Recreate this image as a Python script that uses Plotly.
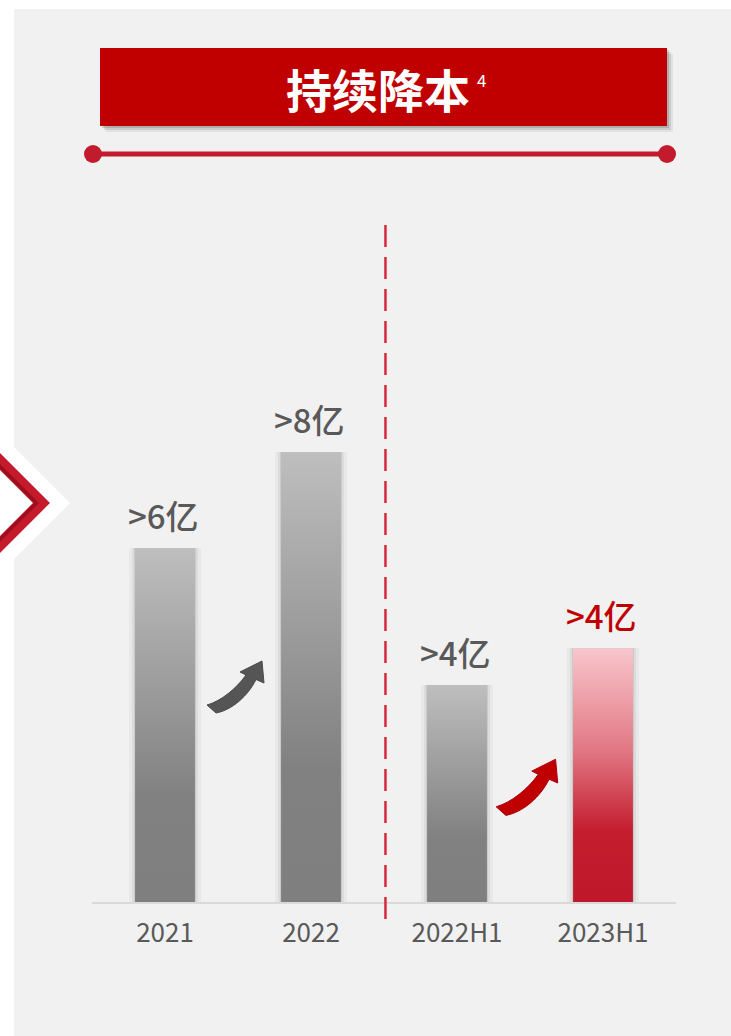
import plotly.graph_objects as go

# ---- data -------------------------------------------------------------
categories = ["2021", "2022", "2022H1", "2023H1"]
savings = [6.55, 8.33, 4.02, 4.70]          # 亿元
value_labels = [">6亿", ">8亿", ">4亿", ">4亿"]
highlight = [False, False, False, True]

# ---- geometry ---------------------------------------------------------
W, H = 731, 1036
ML, MR, MT, MB = 92, 55, 227, 134
PW, PH = W - ML - MR, H - MT - MB
X_RANGE = [-0.5, 3.5]
Y_RANGE = [0, 12.5]
BAR_W = 0.41

GRAY_TXT = "#595959"
RED = "#C00000"
CRIMSON = "#C21B2D"


def px(x):
    """pixel x -> paper x"""
    return (x - ML) / PW


def py(y):
    """pixel y -> paper y"""
    return (H - MB - y) / PH


def data_to_px(xv, yv):
    xp = ML + (xv - X_RANGE[0]) / (X_RANGE[1] - X_RANGE[0]) * PW
    yp = H - MB - (yv - Y_RANGE[0]) / (Y_RANGE[1] - Y_RANGE[0]) * PH
    return xp, yp


fig = go.Figure()

# soft shadows behind the bars
for spread, alpha in [(12, 0.035), (7, 0.05), (3, 0.08)]:
    fig.add_trace(go.Bar(
        x=list(range(len(categories))), y=savings,
        width=BAR_W + spread / (PW / 4),
        marker=dict(color=f"rgba(0,0,0,{alpha})", line=dict(width=0)),
        hoverinfo="skip", showlegend=False,
    ))

# gradient-filled bars
gray_scale = [[0, "#7F7F7F"], [0.3, "#818181"], [1, "#BEBEBE"]]
red_scale = [[0, "#C0182A"], [0.28, "#C31D2E"], [0.6, "#E27884"], [1, "#F8C6CC"]]
for i, (cat, v) in enumerate(zip(categories, savings)):
    x0, x1 = i - BAR_W / 2, i + BAR_W / 2
    fig.add_trace(go.Scatter(
        x=[x0, x1, x1, x0, x0], y=[0, 0, v, v, 0],
        mode="lines", line=dict(width=0), fill="toself",
        fillgradient=dict(type="vertical",
                          colorscale=red_scale if highlight[i] else gray_scale,
                          start=0, stop=v),
        name=cat, hoverinfo="skip", showlegend=False,
    ))

# value labels above the bars
for i, (v, lab) in enumerate(zip(savings, value_labels)):
    fig.add_annotation(
        x=i, y=v, text=lab, showarrow=False, xanchor="center", yanchor="middle",
        xshift=-2, yshift=33,
        font=dict(family="Noto Sans CJK SC", size=33, weight=500,
                  color=RED if highlight[i] else GRAY_TXT),
    )

shapes = []

# light gray panel
shapes.append(dict(type="rect", xref="paper", yref="paper",
                   x0=px(14), x1=px(W + 5), y0=py(9), y1=py(H + 5),
                   fillcolor="#F1F1F1", line=dict(width=0), layer="below"))

# title banner with drop shadow
for off, alpha in [(6, 0.06), (4, 0.10), (2, 0.14)]:
    shapes.append(dict(type="rect", xref="paper", yref="paper",
                       x0=px(100 + off), x1=px(667 + off),
                       y0=py(126 + off), y1=py(48 + off),
                       fillcolor=f"rgba(0,0,0,{alpha})", line=dict(width=0)))
shapes.append(dict(type="rect", xref="paper", yref="paper",
                   x0=px(100), x1=px(667), y0=py(126), y1=py(48),
                   fillcolor=RED, line=dict(width=0)))

# divider bar with round end caps
shapes.append(dict(type="line", xref="paper", yref="paper",
                   x0=px(93), x1=px(667), y0=py(154), y1=py(154),
                   line=dict(color=CRIMSON, width=5)))
for cx in (93, 667):
    shapes.append(dict(type="circle", xref="paper", yref="paper",
                       x0=px(cx - 9), x1=px(cx + 9), y0=py(154 + 9), y1=py(154 - 9),
                       fillcolor=CRIMSON, line=dict(width=0)))


# chevron on the left edge
def poly(points):
    return "M " + " L ".join(f"{px(a):.5f},{py(b):.5f}" for a, b in points) + " Z"


shapes.append(dict(type="path", xref="paper", yref="paper",
                   path=poly([(0, 433), (70, 503), (0, 573)]),
                   fillcolor="white", line=dict(width=0)))
shapes.append(dict(type="path", xref="paper", yref="paper",
                   path=poly([(0, 453), (50, 503), (0, 553), (0, 536), (33, 503), (0, 470)]),
                   fillcolor="#C41A2C", line=dict(width=0)))
shapes.append(dict(type="path", xref="paper", yref="paper",
                   path=poly([(0, 464), (39, 503), (0, 542), (0, 537), (34, 503), (0, 469)]),
                   fillcolor="#9E0F1E", line=dict(width=0)))

# dashed separator between full-year and half-year groups
sep_x, _ = data_to_px(1.51, 0)
shapes.append(dict(type="line", xref="paper", yref="paper",
                   x0=px(sep_x), x1=px(sep_x), y0=py(225), y1=py(920),
                   line=dict(color="#D42A3C", width=2.5, dash="22px,10px")))


# curved growth arrows between paired bars
def arrow_path(ox, oy, s):
    def p(a, b):
        return f"{px(ox + a * s):.5f},{py(oy + b * s):.5f}"
    return (f"M {p(2, 47)} C {p(16, 43)} {p(31, 31)} {p(41, 17)} "
            f"L {p(35, 14)} L {p(57, 3)} L {p(59, 25)} L {p(51, 21.5)} "
            f"C {p(43, 38)} {p(27, 52)} {p(11, 55)} Z")


ax0, _ = data_to_px(0.5, 0)
ax1, _ = data_to_px(2.5, 0)
shapes.append(dict(type="path", xref="paper", yref="paper",
                   path=arrow_path(ax0 - 33, 658, 1.0),
                   fillcolor="#555555", line=dict(color="#4A4A4A", width=1)))
shapes.append(dict(type="path", xref="paper", yref="paper",
                   path=arrow_path(ax1 - 36, 756, 1.08),
                   fillcolor="#C00000", line=dict(color="#A8000C", width=1)))

fig.update_layout(shapes=shapes)

# title text
fig.add_annotation(xref="paper", yref="paper", x=px(378), y=py(88),
                   xanchor="center", yanchor="middle",
                   text="<b>持续降本</b>", showarrow=False,
                   font=dict(family="Noto Sans CJK SC", size=46, color="white"))
fig.add_annotation(xref="paper", yref="paper", x=px(481), y=py(79),
                   xanchor="center", yanchor="middle",
                   text="4", showarrow=False,
                   font=dict(family="Noto Sans CJK SC", size=17, color="white"))

fig.update_layout(
    width=W, height=H,
    margin=dict(l=ML, r=MR, t=MT, b=MB, pad=0),
    paper_bgcolor="white", plot_bgcolor="rgba(0,0,0,0)",
    barmode="overlay", bargap=0, showlegend=False,
    xaxis=dict(range=X_RANGE, tickvals=list(range(len(categories))),
               ticktext=categories, showgrid=False, zeroline=False,
               showline=True, linecolor="#D9D9D9", linewidth=2,
               ticks="outside", ticklen=7, tickcolor="rgba(0,0,0,0)",
               tickfont=dict(family="Noto Sans CJK SC", size=26, color=GRAY_TXT),
               fixedrange=True),
    yaxis=dict(range=Y_RANGE, visible=False, fixedrange=True),
)

fig.write_html("out.html")
